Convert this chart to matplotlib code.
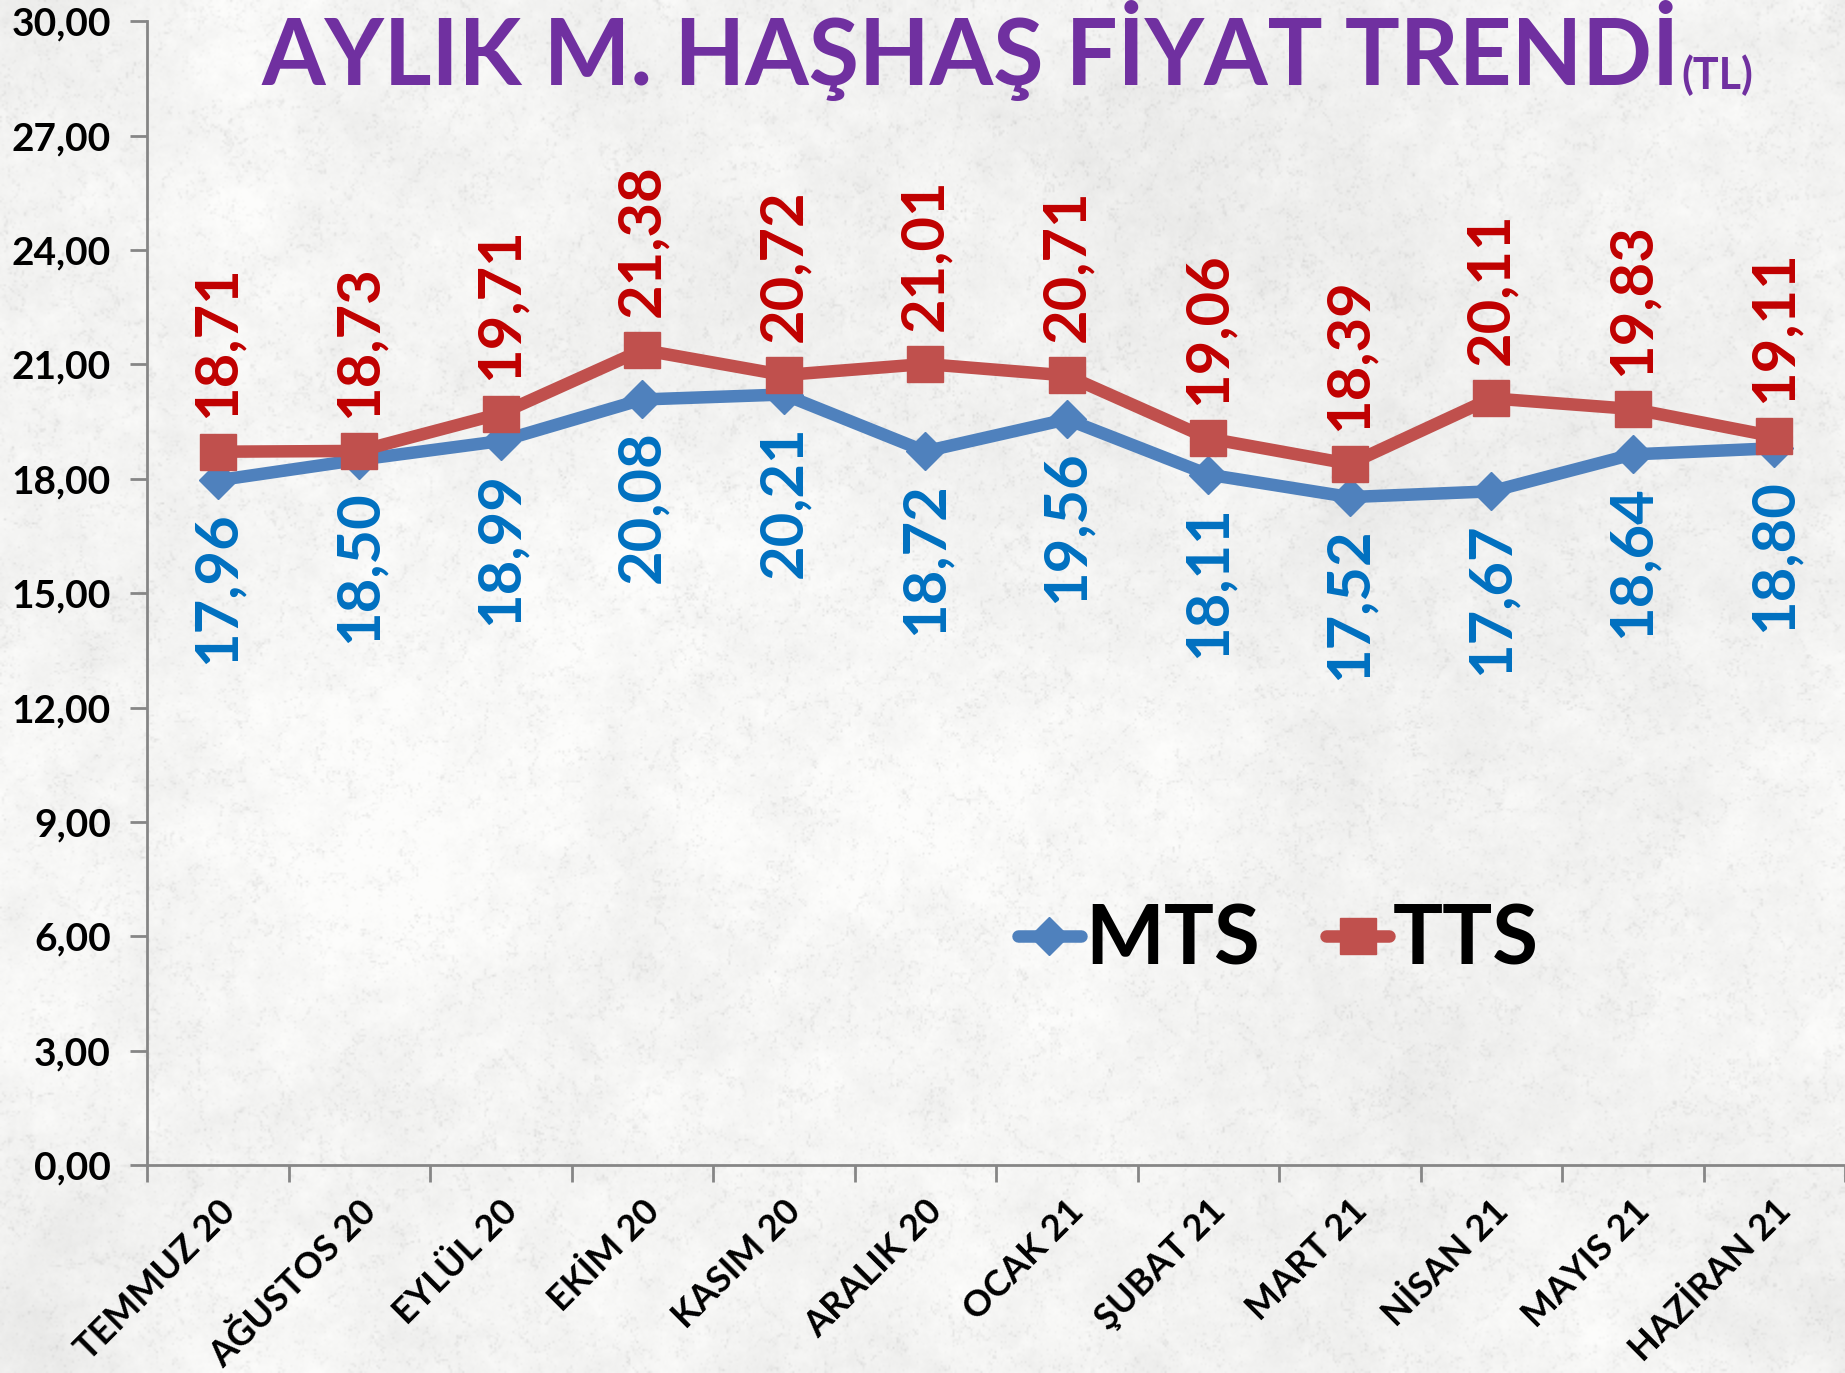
import numpy as np
import matplotlib
matplotlib.use("Agg")
import matplotlib.pyplot as plt
import matplotlib.transforms as mtransforms
from matplotlib.lines import Line2D

# Monthly poppy prices (TL)
months = ["TEMMUZ 20", "AĞUSTOS 20", "EYLÜL 20", "EKİM 20", "KASIM 20", "ARALIK 20",
          "OCAK 21", "ŞUBAT 21", "MART 21", "NİSAN 21", "MAYIS 21", "HAZİRAN 21"]
mts = [17.96, 18.50, 18.99, 20.08, 20.21, 18.72, 19.56, 18.11, 17.52, 17.67, 18.64, 18.80]
tts = [18.71, 18.73, 19.71, 21.38, 20.72, 21.01, 20.71, 19.06, 18.39, 20.11, 19.83, 19.11]
y_ticks = [0, 3, 6, 9, 12, 15, 18, 21, 24, 27, 30]

FONT = ["Lato", "DejaVu Sans"]
plt.rcParams["font.family"] = FONT

W, H, DPI = 1845, 1373, 100
fig = plt.figure(figsize=(W / DPI, H / DPI), dpi=DPI)

# light marble-like backdrop
rng = np.random.default_rng(11)
def smooth_noise(shape, beta):
    f = rng.standard_normal(shape)
    F = np.fft.fft2(f)
    ky = np.fft.fftfreq(shape[0])[:, None]
    kx = np.fft.fftfreq(shape[1])[None, :]
    k = np.sqrt(kx ** 2 + ky ** 2)
    k[0, 0] = 1.0
    out = np.real(np.fft.ifft2(F / k ** beta))
    out -= out.mean()
    return out / out.std()

th, tw = H // 2, W // 2
n1 = smooth_noise((th, tw), 1.2)
n2 = smooth_noise((th, tw), 1.5)
n3 = smooth_noise((th, tw), 1.1)
yy, xx = np.mgrid[0:th, 0:tw]
veins_a = np.abs(np.sin((1.4 * xx + yy) * 0.045 + n2 * 3.0))
veins_b = np.abs(np.sin((xx - 0.5 * yy) * 0.03 + n3 * 3.5))
dark = 0.07 * np.exp(-veins_a / 0.07) + 0.04 * np.exp(-veins_b / 0.06)
tex = 0.958 + 0.014 * n1 - dark
tex = np.clip(tex, 0.83, 0.99)
bg_ax = fig.add_axes([0, 0, 1, 1], zorder=-10)
bg_ax.imshow(np.dstack([tex, tex, tex * 0.995]), aspect="auto", interpolation="bilinear")
bg_ax.axis("off")

ax = fig.add_axes([0.0797, 0.1515, 0.9203, 0.833])
ax.patch.set_alpha(0)

x = np.arange(len(months))
blue_line = "#4F81BD"
red_line = "#C0504D"
ax.plot(x, mts, color=blue_line, lw=9, marker="D", ms=19, solid_joinstyle="round",
        solid_capstyle="round", zorder=3)
ax.plot(x, tts, color=red_line, lw=9, marker="s", ms=26, solid_joinstyle="round",
        solid_capstyle="round", zorder=4)

def fmt(v):
    return f"{v:.2f}".replace(".", ",")

for xi, v in zip(x, tts):
    ax.annotate(fmt(v), (xi, v), xytext=(0, 24), textcoords="offset points",
                rotation=90, ha="center", va="bottom", color="#C00000",
                fontsize=43, fontweight="bold", zorder=5)
for xi, v in zip(x, mts):
    ax.annotate(fmt(v), (xi, v), xytext=(0, -22), textcoords="offset points",
                rotation=90, ha="center", va="top", color="#0070C0",
                fontsize=43, fontweight="bold", zorder=5)

ax.set_xlim(-0.5, len(months) - 0.5)
ax.set_ylim(0, 30)
ax.set_yticks(y_ticks)
ax.set_yticklabels([fmt(v) for v in y_ticks], fontsize=28, fontweight="bold")
ax.set_xticks(x)
ax.set_xticklabels(months, rotation=45, ha="right", va="top", rotation_mode="anchor",
                   fontsize=26, fontweight="bold")
shift = mtransforms.ScaledTranslation(10 / 72, 0, fig.dpi_scale_trans)
for lbl in ax.get_xticklabels():
    lbl.set_transform(lbl.get_transform() + shift)
ax.set_xticks(np.arange(-0.5, len(months), 1.0), minor=True)
ax.tick_params(axis="x", which="major", length=0, pad=21)
ax.tick_params(axis="x", which="minor", length=12, width=2, color="#868686")
ax.tick_params(axis="y", length=12, width=2, color="#868686", pad=14)
for s in ("top", "right"):
    ax.spines[s].set_visible(False)
for s in ("left", "bottom"):
    ax.spines[s].set_color("#868686")
    ax.spines[s].set_linewidth(2)

# legend
handles = [Line2D([], [], color=blue_line, lw=9, marker="D", ms=19, solid_capstyle="round"),
           Line2D([], [], color=red_line, lw=9, marker="s", ms=26, solid_capstyle="round")]
fig.legend(handles, ["MTS", "TTS"], loc="center", bbox_to_anchor=(0.693, 0.3145), ncol=2,
           frameon=False, handlelength=0.75, handletextpad=0.05, columnspacing=0.8,
           prop={"family": FONT, "weight": "bold", "size": 60})

# title
t = fig.text(0.1415, 0.938, "AYLIK M. HAŞHAŞ FİYAT TRENDİ", color="#7030A0",
             fontsize=66, fontweight="bold", ha="left", va="baseline")
fig.canvas.draw()
bb = t.get_window_extent()
fig.text(bb.x1 / W + 0.001, 0.935, "(TL)", color="#7030A0", fontsize=31,
         fontweight="bold", ha="left", va="baseline")

fig.savefig("out.png", dpi=DPI)
